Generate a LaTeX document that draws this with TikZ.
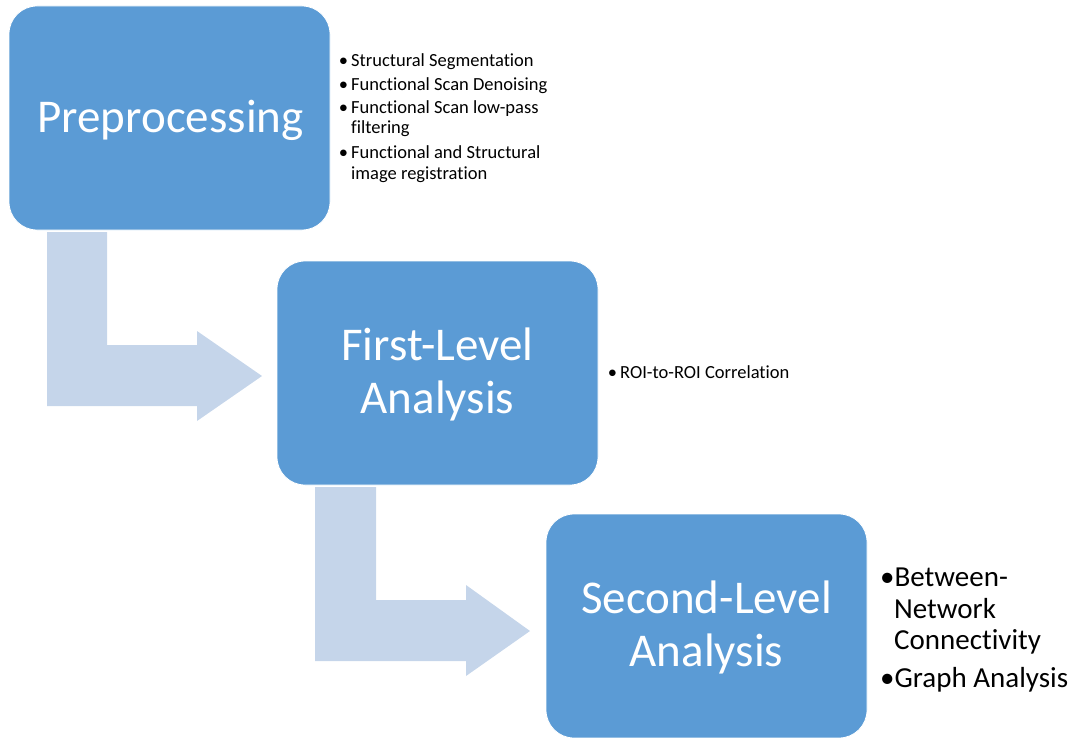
\documentclass[tikz,border=0pt]{standalone}
\usepackage{fontspec}
\setmainfont{Carlito}[Ligatures={NoCommon}]
\definecolor{boxblue}{HTML}{5B9BD5}
\definecolor{arrowblue}{HTML}{C5D5EA}
\begin{document}
\begin{tikzpicture}[x=1pt,y=-1pt,
  stagebox/.style={rectangle, rounded corners=28pt, fill=boxblue, draw=white, line width=0.8pt, inner sep=0, minimum width=321pt, minimum height=224pt},
  boxtext/.style={text=white, font=\fontsize{47}{53}\selectfont, anchor=base, inner sep=0},
  smalltext/.style={font=\fontsize{18.5}{20}\selectfont, anchor=base west, inner sep=0},
  smallbullet/.style={font=\fontsize{18.5}{20}\selectfont, anchor=base, inner sep=0},
  bigtext/.style={font=\fontsize{29}{31}\selectfont, anchor=base west, inner sep=0},
  bentarrow/.style={fill=arrowblue, draw=none}]
\useasboundingbox (0,0) rectangle (1075,738);
% bent arrows
\fill[bentarrow] (47,232) -- (107,232) -- (107,345) -- (197,345) -- (197,331) -- (262,376) -- (197,421) -- (197,406) -- (47,406) -- cycle;
\fill[bentarrow] (315,487) -- (376,487) -- (376,600) -- (466,600) -- (466,585) -- (530,631) -- (466,676) -- (466,661) -- (315,661) -- cycle;
% boxes
\node[stagebox] (pre) at (169.5,118) {};
\node[boxtext] (pret) at (170.5,133) {Preprocessing};
\node[stagebox] (first) at (437.5,373) {};
\node[boxtext] (firstta) at (437.5,360) {First-Level};
\node[boxtext] (firsttb) at (437.5,413) {Analysis};
\node[stagebox] (second) at (706.5,626) {};
\node[boxtext] (secta) at (706.5,613) {Second-Level};
\node[boxtext] (sectb) at (706.5,666) {Analysis};
% preprocessing list
\node[smallbullet] (pb1) at (343.5,67) {\textbullet};
\node[smalltext] (pl1) at (351,67) {Structural Segmentation};
\node[smallbullet] (pb2) at (343.5,91) {\textbullet};
\node[smalltext] (pl2) at (351,91) {Functional Scan Denoising};
\node[smallbullet] (pb3) at (343.5,114) {\textbullet};
\node[smalltext] (pl3) at (351,114) {Functional Scan low-pass};
\node[smalltext] (pl3b) at (351,134) {filtering};
\node[smallbullet] (pb4) at (343.5,159) {\textbullet};
\node[smalltext] (pl4) at (351,159) {Functional and Structural};
\node[smalltext] (pl4b) at (351,179) {image registration};
% first level list
\node[smallbullet] (fb1) at (612.5,378) {\textbullet};
\node[smalltext] (fl1) at (620,378) {ROI-to-ROI Correlation};
% second level list
\node[bigtext] (sl1) at (880,586) {\textbullet Between-};
\node[bigtext] (sl1b) at (894,618) {Network};
\node[bigtext] (sl1c) at (894,649) {Connectivity};
\node[bigtext] (sl2) at (880,687) {\textbullet Graph Analysis};
\end{tikzpicture}
\end{document}
